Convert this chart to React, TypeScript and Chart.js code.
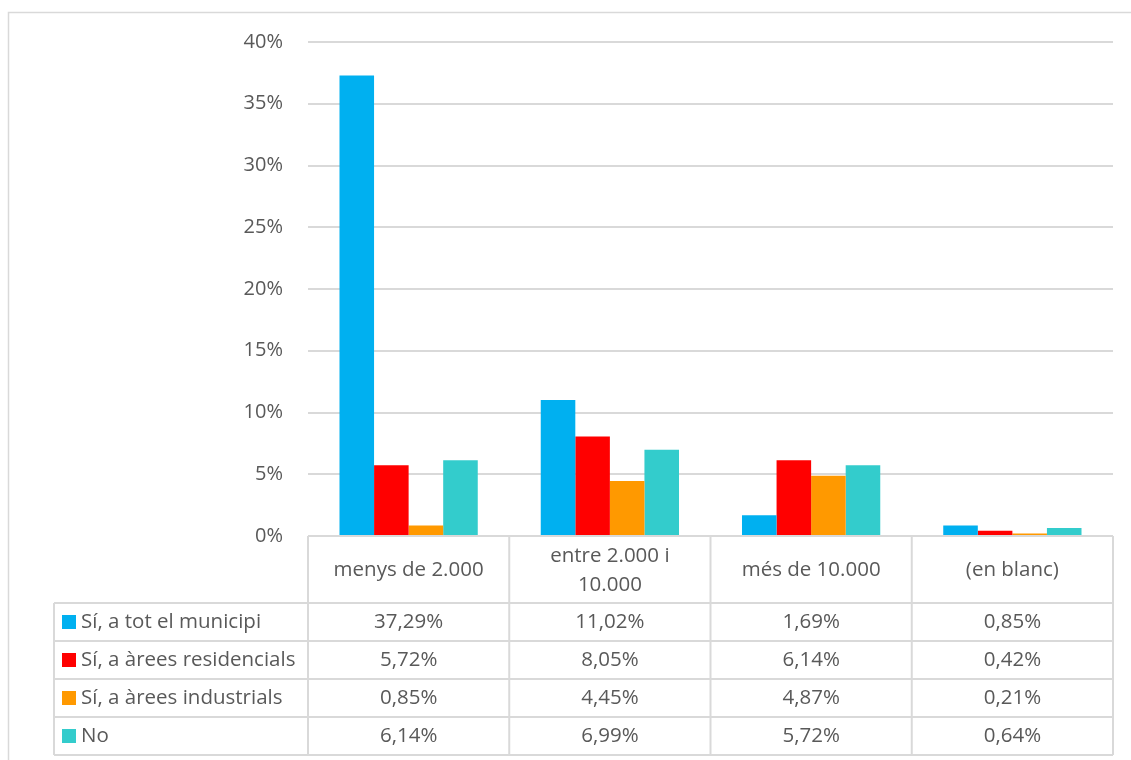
import React, { useEffect, useRef } from "react";
import { Chart, registerables } from "chart.js";

Chart.register(...registerables);

const categories = ["menys de 2.000", "entre 2.000 i 10.000", "més de 10.000", "(en blanc)"];
const categoryLines = [["menys de 2.000"], ["entre 2.000 i", "10.000"], ["més de 10.000"], ["(en blanc)"]];
const seriesNames = ["Sí, a tot el municipi", "Sí, a àrees residencials", "Sí, a àrees industrials", "No"];
const totMunicipi = [37.29, 11.02, 1.69, 0.85];
const arees_residencials = [5.72, 8.05, 6.14, 0.42];
const arees_industrials = [0.85, 4.45, 4.87, 0.21];
const noValues = [6.14, 6.99, 5.72, 0.64];
const seriesColors = ["#00B0F0", "#FF0000", "#FF9900", "#33CCCC"];
const yTicks = [0, 5, 10, 15, 20, 25, 30, 35, 40];

const FONT = "'Open Sans', sans-serif";
const TEXT = "#595959";
const LINE = "#D9D9D9";

const fmt = (v: number) => v.toFixed(2).replace(".", ",") + "%";

const tablePlugin = {
  id: "dataTable",
  afterDraw(chart: any) {
    const ctx = chart.ctx as CanvasRenderingContext2D;
    const area = chart.chartArea;
    const all = [totMunicipi, arees_residencials, arees_industrials, noValues];
    const n = categories.length;
    const cw = (area.right - area.left) / n;
    const top = area.bottom;
    const headerH = 67;
    const rowH = 38;
    const legendLeft = 54;
    const bottom = top + headerH + rowH * all.length;
    ctx.save();
    // outer border
    ctx.strokeStyle = LINE;
    ctx.lineWidth = 1.5;
    ctx.beginPath();
    ctx.moveTo(8.5, 760);
    ctx.lineTo(8.5, 12.5);
    ctx.lineTo(1131, 12.5);
    ctx.stroke();

    ctx.lineWidth = 2;
    ctx.beginPath();
    ctx.moveTo(area.left, top);
    ctx.lineTo(area.right, top);
    for (let r = 0; r <= all.length; r++) {
      const y = top + headerH + r * rowH;
      ctx.moveTo(legendLeft, y);
      ctx.lineTo(area.right, y);
    }
    for (let c = 0; c <= n; c++) {
      const x = area.left + c * cw;
      ctx.moveTo(x, top);
      ctx.lineTo(x, bottom);
    }
    ctx.moveTo(legendLeft, top + headerH);
    ctx.lineTo(legendLeft, bottom);
    ctx.stroke();

    ctx.fillStyle = TEXT;
    ctx.font = `20.5px ${FONT}`;
    ctx.textAlign = "center";
    ctx.textBaseline = "middle";
    categoryLines.forEach((lines, c) => {
      const cx = area.left + (c + 0.5) * cw;
      const cy = top + headerH / 2 + 1;
      const lh = 29;
      lines.forEach((t, i) => {
        ctx.fillText(t, cx, cy + (i - (lines.length - 1) / 2) * lh);
      });
    });
    all.forEach((vals, r) => {
      const cy = top + headerH + r * rowH + rowH / 2;
      vals.forEach((v, c) => {
        ctx.textAlign = "center";
        ctx.fillStyle = TEXT;
        ctx.fillText(fmt(v), area.left + (c + 0.5) * cw, cy);
      });
      ctx.fillStyle = seriesColors[r];
      ctx.fillRect(62, cy - 7, 14, 14);
      ctx.fillStyle = TEXT;
      ctx.textAlign = "left";
      ctx.fillText(seriesNames[r], 81, cy);
    });
    ctx.restore();
  },
};

export default function App() {
  const ref = useRef<HTMLCanvasElement>(null);
  useEffect(() => {
    if (!ref.current) return;
    const data = [totMunicipi, arees_residencials, arees_industrials, noValues];
    const chart = new Chart(ref.current, {
      type: "bar",
      data: {
        labels: categories,
        datasets: data.map((d, i) => ({
          label: seriesNames[i],
          data: d,
          backgroundColor: seriesColors[i],
          borderWidth: 0,
          categoryPercentage: 0.687,
          barPercentage: 1,
        })),
      },
      options: {
        responsive: false,
        animation: false,
        layout: { padding: { top: 42, right: 18, bottom: 224, left: 0 } },
        plugins: { legend: { display: false }, tooltip: { enabled: false } },
        scales: {
          x: { display: false },
          y: {
            min: 0,
            max: 40,
            afterFit: (s: any) => {
              s.width = 308;
            },
            afterBuildTicks: (s: any) => {
              s.ticks = yTicks.map((v) => ({ value: v }));
            },
            border: { display: false },
            grid: { color: LINE, lineWidth: 2, drawTicks: false },
            ticks: {
              color: TEXT,
              font: { family: FONT, size: 20 },
              padding: 25,
              callback: (v: any) => v + "%",
            },
          },
        },
      },
      plugins: [tablePlugin],
    });
    return () => chart.destroy();
  }, []);
  return (
    <div style={{ position: "absolute", left: 0, top: 0, width: 1131, height: 760, background: "#fff" }}>
      <canvas ref={ref} width={1131} height={760} />
    </div>
  );
}
